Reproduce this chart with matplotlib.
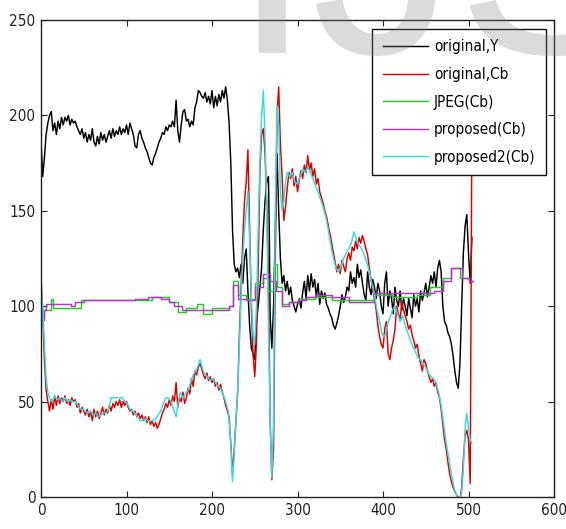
import matplotlib
matplotlib.use("Agg")
import matplotlib.pyplot as plt
from matplotlib import font_manager

# ---------------- data ----------------
y_x = [0,2,4,6,8,10,12,14,16,18,20,22,24,26,28,30,32,34,36,38,40,42,44,46,48,50,52,54,56,58,60,62,64,66,68,70,72,74,76,78,80,82,84,86,88,90,92,94,96,98,100,102,104,106,108,110,112,114,116,118,120,122,124,126,128,130,132,134,136,138,140,142,144,146,148,150,152,154,156,158,160,162,164,166,168,170,172,174,176,178,180,182,184,186,188,190,192,194,196,198,200,202,204,206,208,210,212,214,216,218,220,222,224,226,228,230,232,234,236,238,240,242,244,246,248,250,252,254,256,258,260,262,264,266,267,268,270,272,274,276,278,280,282,284,286,288,290,292,294,296,298,300,302,304,306,308,310,312,314,316,318,320,322,324,326,328,330,332,334,336,338,340,342,344,346,348,350,352,354,356,358,360,362,364,366,368,370,372,374,376,378,380,382,384,386,388,390,392,394,396,398,400,402,404,406,408,410,412,414,416,418,420,422,424,426,428,430,432,434,436,438,440,442,444,446,448,450,452,454,456,458,460,462,464,466,468,470,472,474,476,478,480,482,484,486,488,490,492,494,496,498,500,502,504]
y_v = [187,168,178,190,196,200,202,192,196,190,197,193,199,195,199,197,200,195,198,196,197,194,192,190,193,188,191,186,190,187,193,186,184,189,185,191,187,190,186,189,192,188,193,189,192,190,194,190,193,191,195,190,196,193,190,184,183,190,192,188,186,183,181,178,175,174,178,180,183,186,188,191,190,194,192,195,194,197,194,208,192,186,195,202,203,197,198,194,197,195,204,207,213,212,210,209,212,207,210,206,213,204,210,205,211,207,213,209,215,208,196,175,140,122,118,120,115,122,112,125,130,108,90,78,75,72,92,100,110,120,140,155,165,168,140,95,78,100,140,180,150,125,112,116,108,113,106,110,103,100,97,101,104,99,107,113,104,116,108,117,110,114,105,112,101,108,104,107,101,99,96,94,90,88,91,95,100,106,102,105,110,108,118,112,115,110,122,115,119,112,106,103,118,110,106,114,110,104,112,108,100,96,112,118,100,108,104,96,110,103,100,108,98,104,100,95,104,99,94,106,100,104,97,108,103,107,112,105,110,116,112,118,110,120,124,118,100,92,90,86,84,80,74,66,60,57,70,100,128,142,148,128,112,136]

cb_x = [0,2,4,6,8,10,12,14,16,18,20,22,24,26,28,30,32,34,36,38,40,42,44,46,48,50,52,54,56,58,60,62,64,66,68,70,72,74,76,78,80,82,84,86,88,90,92,94,96,98,100,102,104,106,108,110,112,114,116,118,120,122,124,126,128,130,132,134,136,138,140,142,144,146,148,150,152,154,156,158,160,162,164,166,168,170,172,174,176,178,180,182,184,186,188,190,192,194,196,198,200,202,204,206,208,210,212,214,216,218,220,222,224,226,228,230,232,234,236,238,240,242,244,246,248,250,252,254,256,258,260,262,264,266,268,270,272,274,276,278,280,282,284,286,288,290,292,294,296,298,300,302,304,306,308,310,312,314,316,318,320,322,324,326,328,330,332,334,336,338,340,342,344,346,348,350,352,354,356,358,360,362,364,366,368,370,372,374,376,378,380,382,384,386,388,390,392,394,396,398,400,402,404,406,408,410,412,414,416,418,420,422,424,426,428,430,432,434,436,438,440,442,444,446,448,450,452,454,456,458,460,462,464,466,468,470,472,474,476,478,480,482,484,486,488,490,492,494,496,498,500,502,504]
cb_v = [116,95,72,56,50,45,51,46,53,48,53,49,52,50,53,49,51,48,52,50,51,47,49,44,47,45,43,46,42,45,40,46,42,45,41,44,47,43,46,44,48,45,49,47,50,48,51,47,50,48,50,47,45,46,43,45,42,44,41,43,40,42,39,42,38,40,37,39,36,38,41,44,46,49,47,51,48,53,50,60,47,52,50,55,49,52,57,54,62,58,66,64,68,70,67,64,62,65,61,63,60,62,58,60,56,59,55,52,48,45,42,28,12,25,40,55,85,110,135,155,165,182,140,100,75,63,80,120,170,190,193,180,155,115,40,9,25,120,200,215,185,168,145,152,162,170,167,172,163,168,160,166,171,167,174,170,179,171,175,168,172,164,167,160,157,154,150,147,142,138,133,128,123,118,122,117,124,121,118,125,128,124,131,129,134,130,136,133,137,134,130,127,120,114,108,104,98,90,84,80,78,88,92,75,72,78,82,88,100,96,93,102,98,95,92,88,90,85,82,78,80,74,70,66,72,70,66,63,60,62,58,60,55,52,46,38,30,25,18,12,8,5,3,1,0,-2,5,20,32,35,30,7,200]

jpeg_x = [0,3,12,14,47,113,130,150,160,170,183,190,200,220,225,230,240,250,260,266,272,276,282,290,300,320,340,360,390,410,440,455,470,480,490,500,505]
jpeg_v = [94,98,104,99,103,103,105,102,97,99,101,96,99,100,113,106,104,112,115,108,122,110,101,102,104,105,103,103,106,105,106,110,115,120,115,113,113]

prop_x = [0,3,6,20,35,40,50,110,125,140,150,155,165,220,225,230,240,250,260,268,275,282,290,300,310,320,340,360,390,460,470,480,492,500,505]
prop_v = [93,98,101,101,100,102,103,104,105,104,102,100,98,100,111,104,103,110,117,113,108,100,102,103,105,106,105,102,107,108,113,120,115,113,113]

p2_x = [0,2,4,6,8,10,13,16,19,22,25,28,31,34,37,40,43,46,49,52,55,58,61,64,67,70,73,76,79,82,85,90,95,98,101,104,107,110,113,116,119,122,125,128,131,134,137,140,143,146,149,152,155,158,160,163,166,169,172,175,178,181,184,186,189,192,195,198,201,204,207,210,213,216,219,222,224,226,228,230,232,234,236,238,240,242,244,246,248,250,252,254,256,258,260,262,264,266,268,270,272,274,276,278,280,282,284,286,288,291,294,297,300,303,306,309,312,315,318,321,324,327,330,333,336,339,342,345,348,351,354,357,360,363,366,369,372,375,378,381,384,387,390,393,396,399,402,405,408,411,414,417,420,423,426,429,432,435,438,441,444,447,450,453,456,459,462,465,468,471,474,477,480,483,486,489,492,494,496,498,500,502,504]
p2_v = [108,100,80,62,55,52,50,53,51,52,50,52,50,51,50,50,48,46,46,45,44,45,43,44,42,43,44,44,46,52,52,52,52,50,49,46,45,44,42,40,40,41,40,40,40,41,43,45,49,52,52,50,46,42,48,55,52,54,56,60,64,66,69,72,67,64,63,61,62,60,58,57,54,50,45,28,8,22,40,55,80,105,125,140,150,160,135,105,85,80,100,140,175,200,213,190,150,90,40,10,40,150,205,195,160,150,155,165,170,168,170,165,164,168,172,170,173,170,167,163,160,156,152,147,140,132,125,120,118,121,125,128,130,133,139,135,132,130,127,123,118,112,106,98,92,85,84,90,94,98,100,96,92,95,90,86,82,79,76,73,72,70,68,65,63,62,60,55,48,38,28,20,12,5,1,-3,2,15,36,44,36,30,28]

x_ticks = [0, 100, 200, 300, 400, 500, 600]
y_ticks = [0, 50, 100, 150, 200, 250]
labels = ["original,Y", "original,Cb", "JPEG(Cb)", "proposed(Cb)", "proposed2(Cb)"]
colors = ["#000000", "#dd0000", "#22cc22", "#bb33cc", "#33dde0"]

# ---------------- font: prefer a narrow sans if one is installed ----------------
narrow = None
for f in font_manager.fontManager.ttflist:
    n = f.name
    if ("Narrow" in n or "Condensed" in n or str(f.stretch) in ("condensed", "semi-condensed", "75", "87")) \
            and "Mono" not in n and "Serif" not in n:
        narrow = f
        break
fam = [narrow.name, "Liberation Sans", "DejaVu Sans"] if narrow else ["Liberation Sans", "DejaVu Sans"]
plt.rcParams["font.family"] = fam
stretch = narrow.stretch if narrow else "normal"

fig = plt.figure(figsize=(5.66, 5.29), dpi=100)
ax = fig.add_axes([41/566, 1-497/529, 513/566, 477/529])

lw = 1.05
ax.plot(y_x, y_v, color=colors[0], lw=lw, label=labels[0])
ax.plot(cb_x, cb_v, color=colors[1], lw=lw, label=labels[1])
ax.plot(jpeg_x, jpeg_v, color=colors[2], lw=lw, drawstyle="steps-post", label=labels[2])
ax.plot(prop_x, prop_v, color=colors[3], lw=lw, drawstyle="steps-post", label=labels[3])
ax.plot(p2_x, p2_v, color=colors[4], lw=lw, label=labels[4])

ax.set_xlim(0, 600)
ax.set_ylim(0, 250)
ax.set_xticks(x_ticks)
ax.set_yticks(y_ticks)
ax.tick_params(direction="in", length=4, width=0.8, top=True, right=True,
               labelsize=11 if narrow else 10.5, pad=4, colors="#222222")
for lab in ax.get_xticklabels() + ax.get_yticklabels():
    lab.set_fontstretch(stretch)
for s in ax.spines.values():
    s.set_linewidth(1.0)
    s.set_color("#222222")

leg = ax.legend(loc="upper right", bbox_to_anchor=(0.984, 0.981),
                prop={"size": 11 if narrow else 10.5, "stretch": stretch},
                frameon=True, fancybox=False, framealpha=1, edgecolor="#111111",
                handlelength=3.0, handletextpad=0.35, labelspacing=0.82,
                borderpad=0.68, borderaxespad=0)
leg.get_frame().set_linewidth(1.0)

# watermark
fig.text(231/566, 1-53/529, "IJS", fontsize=209, family="Liberation Sans",
         color="#7f7f7f", alpha=0.28, ha="left", va="baseline")

fig.savefig("out.png", dpi=100)
